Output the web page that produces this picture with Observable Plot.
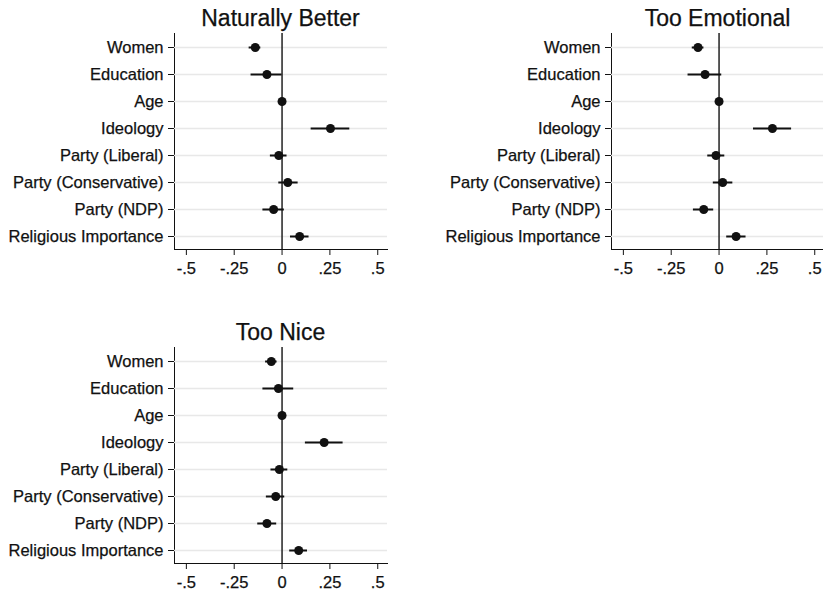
<!DOCTYPE html>
<html>
<head>
<meta charset="utf-8">
<script src="https://cdn.jsdelivr.net/npm/d3@7"></script>
<script src="https://cdn.jsdelivr.net/npm/@observablehq/plot@0.6"></script>
<style>
  html, body { margin: 0; padding: 0; background: #fff; }
  #wrap { position: relative; width: 823px; height: 592px; overflow: hidden; background: #fff; }
  .panel { position: absolute; width: 400px; }
  .title { position: absolute; font-family: "Liberation Sans", Arial, sans-serif; font-size: 23px; line-height: 23px; color: #111; text-align: center; white-space: nowrap; -webkit-text-stroke: 0.25px #111; }
  .panel svg { display: block; }
  .panel svg text { stroke: #111; stroke-width: 0.25px; }
</style>
</head>
<body>
<div id="wrap"></div>
<script>
// ---- data ----
const terms = ["Women", "Education", "Age", "Ideology", "Party (Liberal)", "Party (Conservative)", "Party (NDP)", "Religious Importance"];

const xTicks = [-0.5, -0.25, 0, 0.25, 0.5];
const xTickLabels = ["-.5", "-.25", "0", ".25", ".5"];

const titles = ["Naturally Better", "Too Emotional", "Too Nice"];

const nbEst = [-0.140, -0.079, 0.000, 0.253, -0.017, 0.030, -0.044, 0.092];
const nbLo  = [-0.172, -0.162, -0.004, 0.152, -0.061, -0.017, -0.100, 0.044];
const nbHi  = [-0.111, 0.000, 0.004, 0.354, 0.026, 0.084, 0.012, 0.141];

const teEst = [-0.110, -0.073, 0.000, 0.279, -0.016, 0.019, -0.080, 0.089];
const teLo  = [-0.140, -0.162, -0.004, 0.180, -0.059, -0.030, -0.134, 0.040];
const teHi  = [-0.079, 0.014, 0.004, 0.379, 0.030, 0.072, -0.028, 0.141];

const tnEst = [-0.056, -0.019, 0.000, 0.220, -0.014, -0.033, -0.079, 0.087];
const tnLo  = [-0.086, -0.100, -0.004, 0.122, -0.058, -0.082, -0.127, 0.040];
const tnHi  = [-0.026, 0.061, 0.004, 0.319, 0.030, 0.014, -0.028, 0.133];

// ---- build ----
const W = 400, ML = 174, MR = 13, MT = 33, FRAME_BOTTOM = 249;

function rowsOf(est, lo, hi) {
  return terms.map((t, i) => ({term: t, est: est[i], lo: lo[i], hi: hi[i]}));
}

function panel(title, est, lo, hi, left, top, height) {
  const rows = rowsOf(est, lo, hi);
  const div = document.createElement("div");
  div.className = "panel";
  div.style.left = left + "px";
  div.style.top = top + "px";
  const chart = Plot.plot({
    width: W,
    height: height,
    marginLeft: ML,
    marginRight: MR,
    marginTop: MT,
    marginBottom: height - FRAME_BOTTOM,
    style: {fontFamily: "Liberation Sans, Arial, sans-serif", fontSize: "16.5px", color: "#111", background: "transparent", overflow: "visible"},
    x: {domain: [-0.562, 0.551], ticks: xTicks, tickFormat: d => xTickLabels[xTicks.indexOf(d)], tickSize: 6, tickPadding: 7, label: null, line: true},
    y: {type: "point", domain: terms, padding: 0.47, tickSize: 6, tickPadding: 5, label: null, line: true},
    marks: [
      Plot.ruleY(terms, {stroke: "#e8e8e8", strokeWidth: 1.5}),
      Plot.ruleX([0], {stroke: "#222", strokeWidth: 1.5}),
      Plot.ruleY(rows, {y: "term", x1: "lo", x2: "hi", stroke: "#111", strokeWidth: 2}),
      Plot.dot(rows, {x: "est", y: "term", r: 4.5, fill: "#111", stroke: "none"})
    ]
  });
  div.appendChild(chart);
  const t = document.createElement("div");
  t.className = "title";
  t.textContent = title;
  t.style.left = ML + "px";
  t.style.width = (W - ML - MR) + "px";
  t.style.top = "6.5px";
  div.appendChild(t);
  document.getElementById("wrap").appendChild(div);
}

panel(titles[0], nbEst, nbLo, nbHi, 0, 0, 290);
panel(titles[1], teEst, teLo, teHi, 437, 0, 290);
panel(titles[2], tnEst, tnLo, tnHi, 0, 314, 278);
</script>
</body>
</html>
